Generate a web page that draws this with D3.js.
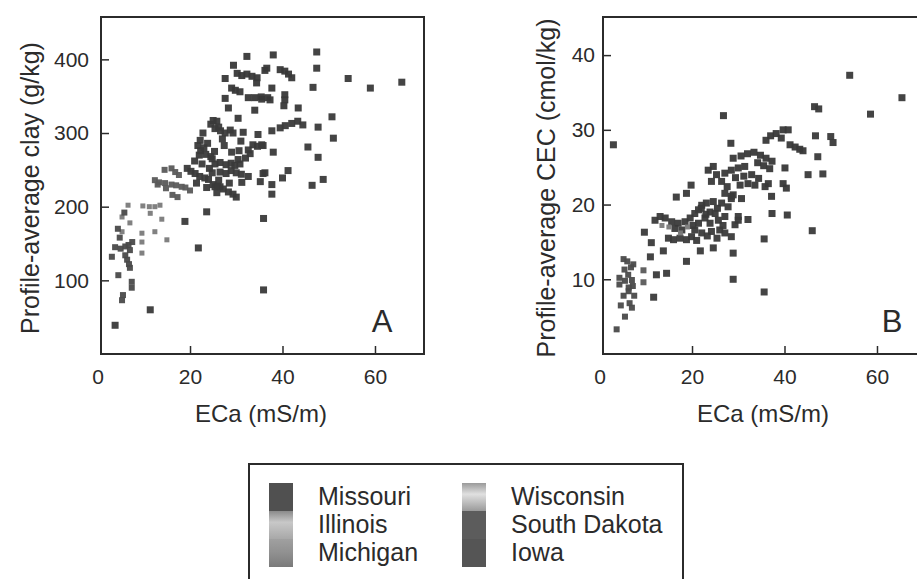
<!DOCTYPE html>
<html>
<head>
<meta charset="utf-8">
<script src="https://cdn.jsdelivr.net/npm/d3@7"></script>
<style>
  body { margin: 0; background: #fff; }
  svg { display: block; font-family: Arial, "Liberation Sans", Helvetica, sans-serif; }
</style>
</head>
<body>
<div id="chart"></div>
<script>
// Tick labels
const ecaTicks = [0, 20, 40, 60];
const clayTicks = [100, 200, 300, 400];
const cecTicks = [10, 20, 30, 40];
const states = ["Missouri", "Illinois", "Michigan", "Wisconsin", "South Dakota", "Iowa"];

// Panel A: ECa (mS/m) vs profile-average clay (g/kg)
const clayMissouri = [[25,317],[25.8,316],[25.4,306],[26.6,303],[27.6,300],[28.7,304],[26.2,308],[29.3,300],[31.5,301],[34.7,298],
  [22.8,300],[22.2,290],[21.7,283],[22.3,276],[23.4,271],[24.5,268],[25.3,275],[23,280],[22,270],[24.8,265],
  [29,274],[30.6,276],[32.6,277],[33.6,284],[34.6,282],[35.8,283],[25.4,258],[26.5,260],[27.8,257],[28.9,259],
  [29.7,256],[30.8,258],[19.4,252],[20.2,248],[21.1,245],[22.1,241],[23.2,239],[24,237],[26.5,247],[27.8,245],
  [28.9,249],[30,246],[31.1,244],[32.6,241],[35.8,245],[25.4,227],[26.5,227],[23.6,226],[25,230],[26,228],
  [27.2,224],[28.3,220],[29.3,217],[30,213],[25.8,219],[31.2,233],[35.2,234],[23.6,193],[18.9,180],[21.8,144],
  [11.4,60],[3.8,39],[37.7,303],[39.5,307],[40.6,310],[42,313],[43.3,316],[44.4,311],[38,274],[35.5,284],
  [36.2,246],[41.2,249],[40,239],[37.7,230],[37.7,217],[24.5,312],[27,292],[23.8,286],[31,289],[33,272],
  [21,262],[22.6,258],[24.2,252],[26.2,236],[28.5,232],[30.4,264],[32,266],[27.4,283],[21.4,232],[24.8,246]];
const clayIllinois = [[6.6,202],[9.8,201],[11.2,200],[12.4,200],[13.5,202],[11.4,191],[13.9,183],[15,155],
  [12.4,166],[9.6,164],[9.6,152],[9.6,137],[5.3,186],[7,178],[5.3,166]];
const clayMichigan = [[7.5,152],[6.7,148],[3.8,145],[5,143],[6,146],[7,141],[3.1,132],[6.4,128],[6.8,122],
  [7,117],[4.5,107],[7.4,98],[7.4,90],[5.5,80],[5.3,73],[4.8,158],[6,134],[5.8,192],[4.4,170]];
const clayWisconsin = [[12.4,236],[13.3,233],[14.6,232],[16,230],[17,229],[18.2,227],[16.8,247],[17.6,243],
  [13,230],[14.8,225],[16.2,216],[17.3,213],[20,222],[19,226],[14.5,250],[16,252]];
const claySouthDakota = [[47.4,410],[47.4,388],[46.6,362],[54.2,374],[59,361],[65.8,369],[50.7,322],[47.7,308],
  [51,293],[45.5,281],[47.7,267],[48.8,237],[46.4,229],[35.9,184],[35.9,87]];
const clayIowa = [[32.3,404],[29.4,392],[30.2,381],[31.2,378],[32.3,380],[33.4,377],[34.5,375],[34.4,368],[36.2,385],
  [27.6,374],[29,361],[29.8,358],[30.8,356],[32.6,348],[34,348],[35.4,349],[36.8,348],[27.6,347],[28.3,334],
  [34,331],[38,406],[36.6,388],[39.5,386],[40.5,384],[41.3,380],[42,375],[37.7,361],[35.5,346],[37.3,345],
  [40.5,352],[40.5,345],[40.3,337],[43.4,334],[30.4,320]];

// Panel B: ECa (mS/m) vs profile-average CEC (cmol/kg)
const cecMissouri = [[12,17.9],[13.1,18.4],[14.2,18.2],[15.6,17.7],[17,17.5],[18.5,17.7],[19.6,18.2],[16.3,16.8],
  [17.8,16.6],[14.9,15.5],[16,15.3],[17.4,15.5],[18.8,15.3],[19.9,15.7],[20.6,16.6],[21.4,17.5],[22.8,18.2],
  [23.9,19],[25,18.8],[25.7,17.9],[27.1,18.4],[21.4,19.3],[22.1,19.9],[23.1,20.2],[24.6,20.4],[26.4,20.2],
  [27.8,19.7],[28.5,20.8],[28.9,21.3],[27.1,21.5],[22.1,16.2],[24.2,16.4],[26,16.6],[27.1,16.2],[28.5,15.7],
  [29.3,17.3],[30,18.4],[23.9,17.5],[20.6,18.8],[24.2,23.1],[26.4,23.1],[16.6,21],[18.8,21.5],[19.8,22.6],
  [21.8,13.8],[24.6,14.2],[18.8,12.4],[28.9,13.5],[28.9,10],[30.7,20.8],[28.5,21.1],[32.1,18],[30,17.9],
  [35.6,15.4],[35.6,8.3],[11,13],[11.2,14.9],[9.7,16.3],[13.8,13.8],[12.3,10.6],[14.5,10.8],[11.7,7.6],
  [22,19.5],[23,18.7],[25.5,19.5],[20.2,17.2],[23.3,15.8],[25.4,15.5],[26.7,17.2],[21,15.2],[27.6,22.4]];
const cecIllinois = [[15,17],[17.5,16.2],[19,17],[13.5,17.2]];
const cecMichigan = [[3.7,3.3],[5.5,5],[4.6,6.5],[7,6.2],[6.5,6.8],[5.2,7.8],[6.3,8.4],[7.5,7.8],[4.3,9.3],
  [5.5,9.8],[7,9.9],[6.2,10.6],[5.4,11.3],[6.8,11.6],[5.2,12.7],[6,12.4],[7.3,12],[4.3,10.2],[7.2,9.1],[6.3,8.9]];
const cecWisconsin = [[9.5,11.2],[9.5,9.6]];
const cecSouthDakota = [[54.1,37.3],[65.4,34.3],[58.6,32.1],[46.5,33.1],[47.4,32.8],[46.7,29.2],[50,29.1],
  [50.5,28.3],[47.2,26.4],[45.1,24],[48.3,24.1],[46,16.5],[3,28]];
const cecIowa = [[24.6,25.1],[25.3,24],[27.1,24.2],[28.5,24.6],[30,24.9],[31.4,25.1],[28.9,26.2],[32.9,24],
  [32.1,22.8],[33.6,22.6],[30.4,22.6],[23.5,24.6],[30.6,26.5],[32,26.8],[33.4,27],[34.8,26.6],[36,26.2],
  [37.3,25.8],[34.2,25.6],[35.5,25.2],[36.8,24.8],[36.5,22.8],[35.8,22.4],[39.7,22.8],[40.4,22.2],[37.2,21.1],
  [40.1,24.9],[26.8,31.9],[28.4,28.2],[36,28.6],[37,29.2],[38.2,29.5],[39.3,28.9],[39.7,30],[40.8,30],
  [41.2,28],[42.3,27.7],[43.3,27.4],[44,27.2],[37.3,18.8],[40.6,18.6],[29.4,23.6],[31.2,23.8],[34.4,23.5]];

const clayByState = { "Missouri": clayMissouri, "Illinois": clayIllinois, "Michigan": clayMichigan,
  "Wisconsin": clayWisconsin, "South Dakota": claySouthDakota, "Iowa": clayIowa };
const cecByState = { "Missouri": cecMissouri, "Illinois": cecIllinois, "Michigan": cecMichigan,
  "Wisconsin": cecWisconsin, "South Dakota": cecSouthDakota, "Iowa": cecIowa };

// marker look per state
const markerSize = { "Missouri": 7, "Illinois": 5, "Michigan": 6, "Wisconsin": 6, "South Dakota": 7, "Iowa": 7 };
const markerFill = { "Missouri": "#3a3a3a", "Illinois": "#7a7a7a", "Michigan": "#4a4a4a",
  "Wisconsin": "#5a5a5a", "South Dakota": "#3a3a3a", "Iowa": "#383838" };

const width = 917, height = 579;
const ink = "#2b2b2b";

const svg = d3.select("#chart").append("svg")
  .attr("width", width)
  .attr("height", height);

svg.append("rect").attr("width", width).attr("height", height).attr("fill", "#fff");

function drawPanel(p) {
  const x = d3.scaleLinear().domain([0.75, 70.6]).range([p.left, p.left + 323]);
  const y = d3.scaleLinear().domain(p.yDomain).range([354, 17]);

  // x axis, ticks pointing into the plot
  const gx = svg.append("g")
    .attr("transform", `translate(0, 354)`)
    .call(d3.axisBottom(x).tickValues(ecaTicks).tickSize(-8).tickPadding(15).tickFormat(d3.format("d")));
  gx.select(".domain").remove();
  gx.selectAll(".tick").filter(d => d === 0).select("line").remove();
  gx.selectAll("line").attr("stroke", ink).attr("stroke-width", 1.5);
  gx.selectAll("text").attr("font-size", 21).attr("fill", ink);

  // y axis
  const gy = svg.append("g")
    .attr("transform", `translate(${p.left}, 0)`)
    .call(d3.axisLeft(y).tickValues(p.yTicks).tickSize(-8).tickPadding(p.yPad).tickFormat(d3.format("d")));
  gy.select(".domain").remove();
  gy.selectAll("line").attr("stroke", ink).attr("stroke-width", 1.5);
  gy.selectAll("text").attr("font-size", 21).attr("fill", ink);

  // points
  const g = svg.append("g");
  states.forEach(s => {
    const sz = markerSize[s];
    g.selectAll(null)
      .data(p.data[s])
      .join("rect")
      .attr("x", d => x(d[0]) - sz / 2)
      .attr("y", d => y(d[1]) - sz / 2)
      .attr("width", sz)
      .attr("height", sz)
      .attr("fill", markerFill[s])
      .attr("fill-opacity", 0.95);
  });

  // frame
  svg.append("rect")
    .attr("x", p.left).attr("y", 17)
    .attr("width", 323).attr("height", 337)
    .attr("fill", "none").attr("stroke", ink).attr("stroke-width", 2);

  // axis titles
  svg.append("text")
    .attr("x", p.left + 160).attr("y", 422)
    .attr("text-anchor", "middle").attr("font-size", 24).attr("fill", ink)
    .text("ECa (mS/m)");
  svg.append("text")
    .attr("transform", `translate(${p.titleX}, 188) rotate(-90)`)
    .attr("text-anchor", "middle").attr("font-size", 25).attr("fill", ink)
    .text(p.yTitle);

  // panel letter
  svg.append("text")
    .attr("x", p.left + p.letterDx).attr("y", 332)
    .attr("text-anchor", "middle").attr("font-size", 31).attr("fill", ink)
    .text(p.letter);
}

drawPanel({ left: 101, yDomain: [0, 457.5], yTicks: clayTicks, yPad: 12, titleX: 39,
  yTitle: "Profile-average clay (g/kg)", data: clayByState, letter: "A", letterDx: 281 });
drawPanel({ left: 603, yDomain: [0, 45.1], yTicks: cecTicks, yPad: 8, titleX: 555,
  yTitle: "Profile-average CEC (cmol/kg)", data: cecByState, letter: "B", letterDx: 289 });

// Legend
const defs = svg.append("defs");
function grad(id, stops) {
  const lg = defs.append("linearGradient").attr("id", id).attr("x1", 0).attr("y1", 0).attr("x2", 0).attr("y2", 1);
  stops.forEach(s => lg.append("stop").attr("offset", s[0]).attr("stop-color", s[1]));
}
grad("gIllinois", [[0, "#8a8a8a"], [0.4, "#c8c8c8"], [1, "#a8a8a8"]]);
grad("gMichigan", [[0, "#a0a0a0"], [0.5, "#909090"], [1, "#7a7a7a"]]);
grad("gWisconsin", [[0, "#9a9a9a"], [0.4, "#e0e0e0"], [1, "#9a9a9a"]]);
const swatchFill = { "Missouri": "#505050", "Illinois": "url(#gIllinois)", "Michigan": "url(#gMichigan)",
  "Wisconsin": "url(#gWisconsin)", "South Dakota": "#5c5c5c", "Iowa": "#555" };

svg.append("rect")
  .attr("x", 249).attr("y", 464)
  .attr("width", 434).attr("height", 130)
  .attr("fill", "#fff").attr("stroke", ink).attr("stroke-width", 2);

const legendCol = d3.scaleOrdinal().domain([0, 1]).range([269, 462]);
const legendRow = d3.scaleLinear().domain([0, 1]).range([483, 511]);
states.forEach((s, i) => {
  const col = i < 3 ? 0 : 1, row = i % 3;
  svg.append("rect")
    .attr("x", legendCol(col)).attr("y", legendRow(row))
    .attr("width", 24).attr("height", 28)
    .attr("fill", swatchFill[s]);
  svg.append("text")
    .attr("x", legendCol(col) + 49).attr("y", legendRow(row) + 22)
    .attr("font-size", 25).attr("fill", ink)
    .text(s);
});
</script>
</body>
</html>
